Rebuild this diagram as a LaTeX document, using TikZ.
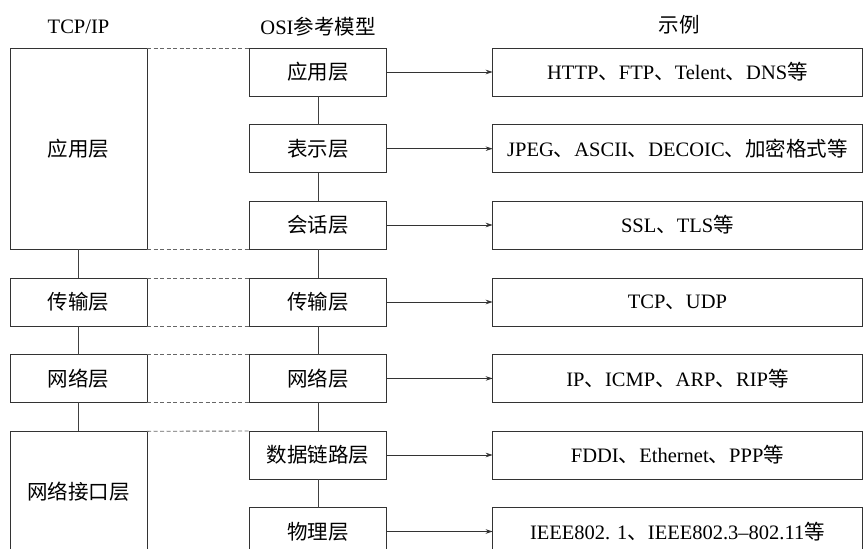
\documentclass[tikz,border=0pt]{standalone}
\usepackage{fontspec}
\setmainfont{Liberation Serif}
\newfontfamily\cjk{Noto Sans CJK SC}
\usetikzlibrary{arrows.meta}
\tikzset{
  box/.style={draw=black!80, line width=0.9pt, rectangle, inner sep=0pt, outer sep=0pt,
    font=\fontsize{20.5}{22}\selectfont, anchor=north west},
  vline/.style={draw=black!75, line width=0.9pt},
  dline/.style={draw=black!60, line width=0.9pt, dash pattern=on 4pt off 2.5pt},
  arr/.style={draw=black!80, line width=0.9pt, -{Stealth[length=7pt,width=4.5pt]}},
  head/.style={font=\fontsize{20.5}{22}\selectfont, inner sep=0pt}
}
\begin{document}
\begin{tikzpicture}[x=1pt,y=-1pt]
\useasboundingbox (0,0) rectangle (863,549);
\clip (0,0) rectangle (863,549);
% headers
\node[head] (h1) at (78.5,27) {TCP/IP};
\node[head] (h2) at (318,27) {OSI{\cjk 参考模型}};
\node[head] (h3) at (679,25) {\cjk 示例};
% left column
\node[box, minimum width=137pt, minimum height=201pt] (L1) at (10,48) {\cjk 应用层};
\node[box, minimum width=137pt, minimum height=48pt] (L2) at (10,278) {\cjk 传输层};
\node[box, minimum width=137pt, minimum height=47.5pt] (L3) at (10,354.7) {\cjk 网络层};
\node[box, minimum width=137pt, minimum height=120pt] (L4) at (10,431.3) {\cjk 网络接口层};
% middle column
\node[box, minimum width=137.5pt, minimum height=48pt] (M1) at (249.3,48) {\cjk 应用层};
\node[box, minimum width=137.5pt, minimum height=48pt] (M2) at (249.3,124.7) {\cjk 表示层};
\node[box, minimum width=137.5pt, minimum height=48pt] (M3) at (249.3,201) {\cjk 会话层};
\node[box, minimum width=137.5pt, minimum height=48pt] (M4) at (249.3,278) {\cjk 传输层};
\node[box, minimum width=137.5pt, minimum height=47.5pt] (M5) at (249.3,354.7) {\cjk 网络层};
\node[box, minimum width=137.5pt, minimum height=48pt] (M6) at (249.3,431) {\cjk 数据链路层};
\node[box, minimum width=137.5pt, minimum height=48pt] (M7) at (249.3,507.5) {\cjk 物理层};
% right column
\node[box, minimum width=369.5pt, minimum height=48pt] (R1) at (492.7,48) {HTTP{\cjk 、}FTP{\cjk 、}Telent{\cjk 、}DNS{\cjk 等}};
\node[box, minimum width=369.5pt, minimum height=48pt] (R2) at (492.7,124.7) {JPEG{\cjk 、}ASCII{\cjk 、}DECOIC{\cjk 、加密格式等}};
\node[box, minimum width=369.5pt, minimum height=48pt] (R3) at (492.7,201) {SSL{\cjk 、}TLS{\cjk 等}};
\node[box, minimum width=369.5pt, minimum height=48pt] (R4) at (492.7,278) {TCP{\cjk 、}UDP};
\node[box, minimum width=369.5pt, minimum height=47.5pt] (R5) at (492.7,354.7) {IP{\cjk 、}ICMP{\cjk 、}ARP{\cjk 、}RIP{\cjk 等}};
\node[box, minimum width=369.5pt, minimum height=48pt] (R6) at (492.7,431) {FDDI{\cjk 、}Ethernet{\cjk 、}PPP{\cjk 等}};
\node[box, minimum width=369.5pt, minimum height=48pt] (R7) at (492.7,507.5) {IEEE802. 1{\cjk 、}IEEE802.3--802.11{\cjk 等}};
% vertical connectors
\draw[vline] (L1.south) -- (L2.north);
\draw[vline] (L2.south) -- (L3.north);
\draw[vline] (L3.south) -- (L4.north);
\draw[vline] (M1.south) -- (M2.north);
\draw[vline] (M2.south) -- (M3.north);
\draw[vline] (M3.south) -- (M4.north);
\draw[vline] (M4.south) -- (M5.north);
\draw[vline] (M5.south) -- (M6.north);
\draw[vline] (M6.south) -- (M7.north);
% dashed
\draw[dline] (L1.north east) -- (M1.north west);
\draw[dline] (L1.south east) -- (M3.south west);
\draw[dline] (L2.north east) -- (M4.north west);
\draw[dline] (L2.south east) -- (M4.south west);
\draw[dline] (L3.north east) -- (M5.north west);
\draw[dline] (L3.south east) -- (M5.south west);
\draw[dline] (L4.north east) -- (M6.north west);
% arrows
\foreach \i in {1,...,7} { \draw[arr] (M\i.east) -- (R\i.west); }
\end{tikzpicture}
\end{document}
